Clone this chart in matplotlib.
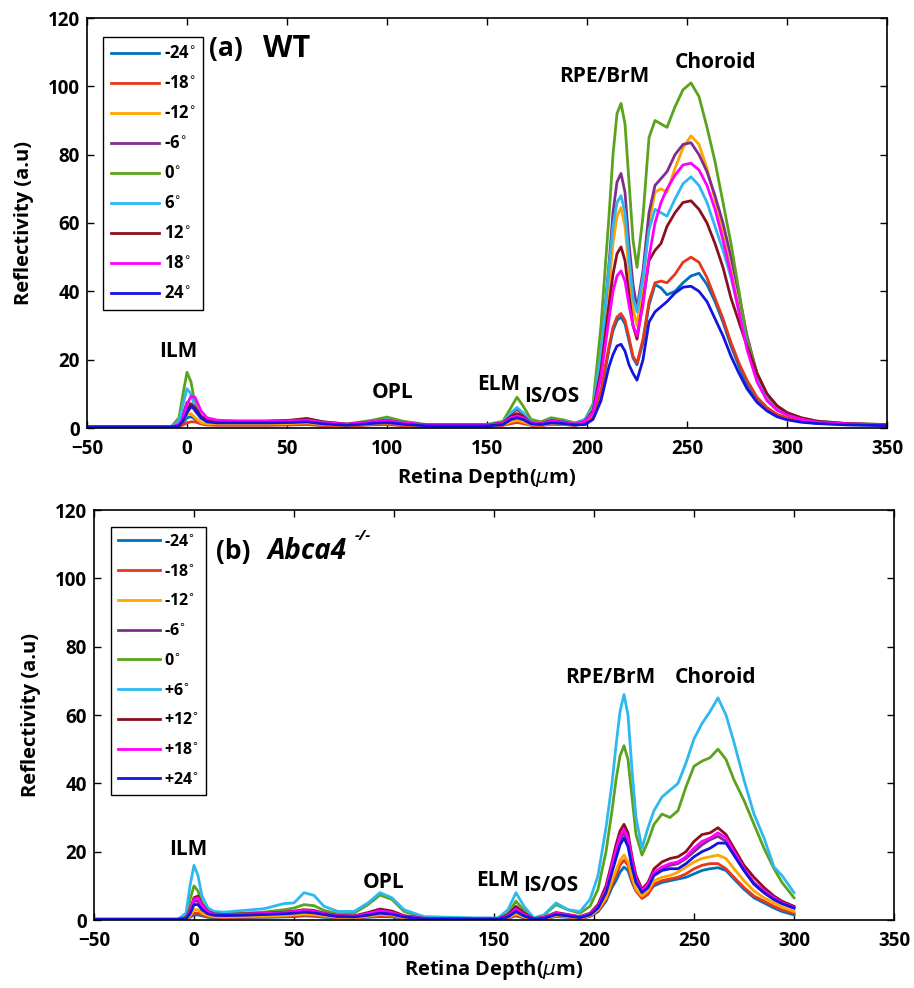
import matplotlib
matplotlib.use("Agg")
import matplotlib.pyplot as plt

plt.rcParams['font.family'] = ['Open Sans', 'DejaVu Sans']
plt.rcParams['mathtext.fontset'] = 'dejavusans'

# ---------------- Panel (a) WT ----------------
xa = [-50, -8, -4, -2, 0,
      2, 4, 7, 10, 15,
      25, 40, 52, 60, 68,
      80, 92, 100, 108, 120,
      150, 158, 162, 165, 168,
      172, 177, 182, 188, 194,
      199, 203, 207, 211, 213,
      215, 217, 219, 221, 223,
      225, 228,
      231, 234, 237, 240, 244,
      248, 252, 256, 260, 264,
      268, 272, 276, 280, 285,
      290, 295, 300, 307, 315,
      330, 350]

a_m24 = [0.3, 0.3, 0.5, 1.5, 3, 3.3, 2.6, 1.5, 1, 0.9, 0.9, 0.9, 1, 1.1, 0.8,
         0.6, 1, 1.2, 0.8, 0.5, 0.5, 0.9, 1.8, 2.2, 1.8, 0.9, 0.8, 1.2, 1.1, 0.8,
         1.3, 3, 10, 23, 28.5, 31.5, 32.5, 30.5, 25.5, 20.5, 18.5, 25,
         36, 42, 41, 39, 40,
         42.5, 44.5, 45.3, 42, 37, 31, 24, 18, 12.5, 8, 5.3, 3.5, 2.6, 1.9, 1.4, 1, 0.8]
a_m18 = [0.3, 0.3, 0.4, 0.9, 1.5, 1.8, 1.8, 1.2, 0.9, 0.8, 0.8, 0.8, 0.9, 1, 0.7,
         0.6, 0.9, 1, 0.7, 0.5, 0.5, 0.8, 1.3, 1.6, 1.3, 0.8, 0.7, 1.1, 1, 0.8,
         1.5, 3.5, 11, 24, 29.5, 32.5, 33.5, 31.5, 26.5, 21, 19, 26,
         37, 42.5, 43, 42.5, 45,
         48.5, 50, 48.5, 44, 38, 32, 25, 19, 14, 9, 6, 4, 3, 2.2, 1.5, 1.1, 0.8]
a_m12 = [0.3, 0.3, 0.6, 2, 4, 4.2, 3, 1.6, 1.2, 1.2, 1.2, 1.2, 1.3, 1.5, 1,
         0.8, 1.2, 1.5, 1, 0.6, 0.6, 1, 1.8, 2.2, 1.8, 1, 0.8, 1.4, 1.2, 0.9,
         1.8, 4.5, 18, 41, 54, 62, 64.5, 59, 46, 35, 30, 42,
         60, 69, 70, 69, 76,
         82, 85.5, 83, 76, 67, 57, 46, 35, 24, 14, 8.5, 5.5, 4, 2.7, 1.8, 1.2, 0.9]
a_m6 = [0.3, 0.3, 1, 4, 7.5, 7, 5, 2.8, 2, 1.8, 1.8, 1.8, 2, 2.2, 1.5,
        1, 1.5, 2, 1.5, 0.8, 0.8, 1.5, 4, 5.5, 4, 1.5, 1.2, 2, 1.6, 1,
        2, 5, 22, 48, 63, 72, 74.5, 69, 54, 42, 35, 46,
        63, 71, 73, 75, 80,
        83, 83.5, 80, 75, 68, 60, 50, 39, 27, 16, 9.5, 6, 4, 2.8, 1.8, 1.2, 0.9]
a_0 = [0.3, 0.3, 3, 10, 16.3, 13.5, 7, 3, 2.3, 2, 2, 2, 2.2, 2.6, 1.8,
       1.2, 2.2, 3.2, 2, 1, 1, 2, 6, 9, 6.5, 2.5, 1.8, 3, 2.4, 1.5,
       2.5, 7, 30, 62, 80, 92, 95, 89, 72, 55, 47, 62,
       85, 90, 89, 88, 94,
       99, 101, 97, 88, 78, 66, 54, 40, 26, 16, 10, 6.5, 4.5, 3, 2, 1.3, 1]
a_6 = [0.3, 0.3, 2, 7, 11.5, 10, 6, 3, 2.2, 1.8, 1.8, 1.8, 1.9, 2.2, 1.4,
       1, 1.8, 2.5, 1.6, 0.9, 0.9, 1.7, 4.5, 6, 4.5, 1.8, 1.4, 2.4, 2, 1.2,
       2.5, 6, 22, 47, 59, 66, 68, 63, 50, 38, 34, 44,
       58, 64, 63, 62, 67,
       71.5, 73.5, 71, 66, 59, 52, 44, 34, 24, 14, 8.5, 5.5, 4, 2.7, 1.8, 1.2, 0.9]
a_12 = [0.3, 0.3, 0.7, 2.5, 5.5, 7, 6, 3.5, 2.3, 2, 2, 2, 2.3, 2.8, 1.8,
        1.1, 1.8, 2.3, 1.5, 0.9, 0.9, 1.5, 3.5, 4.2, 3.5, 1.5, 1.3, 2.2, 1.8, 1.1,
        2, 5, 17, 36, 45, 51, 53, 49, 39, 30, 26, 37,
        49, 52, 54, 59, 63,
        66, 66.5, 64, 60, 54, 47, 38, 31, 24, 16, 10, 6.5, 4.5, 3, 2, 1.3, 1]
a_18 = [0.3, 0.3, 1, 3, 7, 9.3, 9, 5, 3, 2.3, 2, 2, 2.1, 2.3, 1.6,
        1.1, 1.8, 2.2, 1.5, 0.9, 0.9, 1.3, 3, 3.5, 3, 1.5, 1.2, 2, 1.7, 1.1,
        2, 4.5, 15, 32, 40, 44.5, 46, 43, 36, 30, 27, 36,
        50, 60, 66, 70, 74,
        77, 77.5, 75.5, 71, 64, 55, 45, 34, 23, 13.5, 8, 5.2, 3.8, 2.6, 1.7, 1.2, 0.9]
a_24 = [0.3, 0.3, 0.6, 2, 4.5, 6.2, 5.5, 3, 1.8, 1.5, 1.5, 1.5, 1.6, 1.8, 1.2,
        0.8, 1.3, 1.6, 1.1, 0.6, 0.6, 1, 2.5, 3, 2.5, 1.2, 1, 1.5, 1.3, 0.9,
        1, 2.5, 8, 18, 21.5, 24, 24.5, 22.5, 18.5, 16, 14, 20,
        31, 34, 35.5, 37, 39.5,
        41.2, 41.5, 40, 37, 32, 27, 21, 16, 11.5, 7.5, 5, 3.3, 2.4, 1.7, 1.3, 0.9, 0.7]

# ---------------- Panel (b) Abca4-/- ----------------
xb = [-50, -8, -4, -2, 0,
      2, 4, 7, 10, 15,
      25, 35, 45, 50, 55,
      60, 65, 72, 80, 87,
      93, 99, 105, 115, 140,
      152, 157, 161, 165, 170,
      175, 181, 187, 193, 198,
      202, 206, 209, 211, 213,
      215, 217, 219, 221, 224,
      227, 230,
      234, 238, 242, 246, 250,
      254, 258, 262, 266, 270,
      275, 280, 285, 290, 294,
      300]

b_m24 = [0.2, 0.2, 0.3, 0.8, 1.5, 1.5, 1.2, 0.8, 0.6, 0.6, 0.7, 0.8, 0.9, 1, 1.2,
         1.1, 0.8, 0.6, 0.5, 0.8, 1, 0.9, 0.5, 0.2, 0.2, 0.2, 0.5, 1.2, 0.6, 0.2,
         0.3, 1, 0.8, 0.5, 1, 2.4, 5.5, 9.5, 11.5, 14, 15.5, 14.5, 11, 8.5, 7, 8, 10,
         11, 11.5, 12, 12.5, 13.5, 14.5, 15, 15.3, 14.5, 12, 9, 6.5, 5, 3.5, 2.5, 1.5]
b_m18 = [0.2, 0.2, 0.3, 1, 2, 2, 1.5, 1, 0.8, 0.7, 0.8, 0.9, 1, 1.2, 1.4,
         1.3, 1, 0.7, 0.6, 0.9, 1.3, 1.1, 0.6, 0.2, 0.2, 0.2, 0.6, 1.5, 0.8, 0.2,
         0.4, 1.2, 0.9, 0.5, 1.1, 2.7, 6, 10.5, 13, 16, 17.5, 16, 11.5, 8.5, 6.3, 7.5, 10.5,
         11.5, 12, 12.5, 13.5, 15, 16, 16.5, 16.5, 15, 12.5, 9.5, 7, 5.5, 4, 3, 2]
b_m12 = [0.2, 0.2, 0.3, 1.2, 3, 3, 2, 1.3, 1, 0.9, 1, 1.1, 1.3, 1.5, 1.7,
         1.6, 1.2, 0.8, 0.7, 1.1, 1.6, 1.4, 0.7, 0.3, 0.2, 0.2, 0.7, 1.8, 0.9, 0.2,
         0.4, 1.3, 1, 0.6, 1.2, 3, 6.5, 11.5, 14.5, 17.5, 19, 17, 12.5, 9, 7, 8.5, 11.5,
         12.5, 13, 14, 15.5, 17, 18, 18.5, 19, 18, 15, 11.5, 8.5, 6.5, 5, 3.8, 2.5]
b_m6 = [0.2, 0.2, 0.5, 2.2, 5.5, 5.5, 3.5, 2, 1.5, 1.4, 1.5, 1.7, 2, 2.2, 2.5,
        2.3, 1.7, 1.1, 1, 1.6, 2.3, 1.9, 1, 0.4, 0.3, 0.3, 1, 2.8, 1.4, 0.3,
        0.6, 1.8, 1.3, 0.8, 1.7, 3.8, 8.5, 15, 19.5, 23.5, 25.5, 23, 16.5, 11.5, 8.5, 10, 13.5,
        15, 16, 16.5, 18, 20, 22, 23.5, 24.5, 23, 19, 14.5, 10.5, 8, 6, 4.8, 3.5]
b_0 = [0.2, 0.2, 1.2, 6, 10, 8.5, 5, 2.7, 2, 1.8, 2, 2.3, 3, 3.5, 4.5,
       4.2, 2.8, 1.8, 2, 4.5, 7.3, 6, 2.5, 0.8, 0.5, 0.5, 2, 5.5, 2.8, 0.5,
       1.4, 4.5, 3, 2, 4, 9, 20, 32, 41, 48, 51, 47, 36, 25, 19, 23, 28,
       31, 30, 32, 39, 45, 46.5, 47.5, 50, 47, 41, 35, 28, 21, 15, 11, 6.5]
b_6 = [0.2, 0.2, 2, 10, 16, 13, 7, 3.5, 2.5, 2.3, 2.8, 3.3, 4.8, 5, 8,
       7.2, 4, 2.5, 2.5, 5, 8, 6.5, 3, 1, 0.6, 0.6, 3, 8, 4, 0.6,
       1.5, 5, 3, 2.5, 6, 13, 27, 40, 51, 61, 66, 60, 44, 30, 21, 27, 32,
       36, 38, 40, 46, 53, 57.5, 61, 65, 60, 52, 41, 31, 24, 15.5, 13, 8]
b_12 = [0.2, 0.2, 0.6, 3, 6.5, 7, 4.5, 2.5, 1.8, 1.6, 1.8, 2, 2.3, 2.6, 3,
        2.8, 2, 1.3, 1.2, 2.2, 3.2, 2.6, 1.3, 0.5, 0.4, 0.4, 1.5, 4, 2, 0.4,
        0.8, 2.2, 1.6, 1, 2, 4.5, 10, 17, 22, 26, 28, 25.5, 18.5, 13, 9, 11, 15,
        17, 18, 18.5, 20, 23, 25, 25.5, 27, 25, 21, 16, 12.5, 9.5, 7, 5.5, 4]
b_18 = [0.2, 0.2, 0.5, 2.5, 6, 6.5, 4.2, 2.3, 1.7, 1.5, 1.7, 1.9, 2.2, 2.5, 2.8,
        2.6, 1.9, 1.2, 1.1, 1.9, 2.7, 2.2, 1.1, 0.4, 0.3, 0.3, 1.2, 3.2, 1.6, 0.3,
        0.7, 2, 1.5, 0.9, 1.8, 4, 9, 16, 20.5, 24.5, 26.5, 24, 17.5, 12, 8.5, 10.5, 14,
        15.5, 16.5, 17, 18.5, 21, 23, 24, 25.5, 24, 20, 15, 11, 8.5, 6.5, 5, 3.7]
b_24 = [0.2, 0.2, 0.4, 1.8, 4.5, 4.5, 3, 1.8, 1.4, 1.3, 1.4, 1.6, 1.8, 2, 2.3,
        2.1, 1.6, 1, 0.9, 1.4, 2, 1.7, 0.9, 0.3, 0.2, 0.2, 0.9, 2.5, 1.2, 0.2,
        0.5, 1.6, 1.2, 0.7, 1.5, 3.5, 8, 14, 18, 22, 24, 21.5, 15.5, 11, 8, 9.5, 13,
        14.5, 15, 15, 16.5, 18.5, 20, 21, 22.5, 22.5, 19, 14.5, 10.5, 8, 6, 4.8, 3.5]

labels_a = ['-24', '-18', '-12', '-6', '0', '6', '12', '18', '24']
labels_b = ['-24', '-18', '-12', '-6', '0', '+6', '+12', '+18', '+24']
colors = ['#0072BD', '#E8361A', '#FFA500', '#7E2F8E', '#5BA31E',
          '#2DB8F0', '#8B0F1F', '#FF00FF', '#1414E0']

series_a = [a_m24, a_m18, a_m12, a_m6, a_0, a_6, a_12, a_18, a_24]
series_b = [b_m24, b_m18, b_m12, b_m6, b_0, b_6, b_12, b_18, b_24]

fig = plt.figure(figsize=(9.14, 9.88), dpi=100)
ax1 = fig.add_axes([87/914, 1-428/988, 800/914, 410/988])
ax2 = fig.add_axes([94/914, 1-920/988, 800/914, 410/988])

tick_fs = 13.5
lab_fs = 14.5
ann_fs = 15


def style(ax):
    ax.set_xlim(-50, 350)
    ax.set_ylim(0, 120)
    ax.set_xticks(range(-50, 351, 50))
    ax.set_yticks(range(0, 121, 20))
    ax.tick_params(direction='in', length=5, width=1, top=True, right=True,
                   labelsize=tick_fs)
    ax.tick_params(axis='x', pad=8)
    ax.tick_params(axis='y', pad=5)
    for lab in ax.get_xticklabels() + ax.get_yticklabels():
        lab.set_fontweight('bold')
    for sp in ax.spines.values():
        sp.set_linewidth(1.2)
        sp.set_color('black')
    ax.set_xlabel(r'Retina Depth($\mu$m)', fontsize=lab_fs, fontweight='bold', labelpad=5)
    ax.set_ylabel('Reflectivity (a.u)', fontsize=lab_fs, fontweight='bold', labelpad=10)


for ax, xs, series, labels in [(ax1, xa, series_a, labels_a), (ax2, xb, series_b, labels_b)]:
    for ys, c, lab in zip(series, colors, labels):
        ax.plot(xs, ys, color=c, lw=2.0, label=lab + r'$^{\circ}$',
                solid_joinstyle='round')
    style(ax)

leg_kw = dict(loc='upper left', fancybox=False, edgecolor='black', framealpha=1,
              handlelength=2.9, handletextpad=0.3, labelspacing=0.72,
              borderpad=0.45, borderaxespad=0, prop={'weight': 'bold', 'size': 12})
l1 = ax1.legend(bbox_to_anchor=(0.02, 0.954), **leg_kw)
leg_kw['handlelength'] = 2.6
leg_kw['labelspacing'] = 0.86
leg_kw['prop'] = {'weight': 'bold', 'size': 11.5}
l2 = ax2.legend(bbox_to_anchor=(0.021, 0.959), **leg_kw)
for l in (l1, l2):
    l.get_frame().set_linewidth(1.0)

# Panel titles
ax1.text(11, 111, '(a)', fontsize=19, fontweight='bold', va='center', ha='left')
ax1.text(38, 111, 'WT', fontsize=22, fontweight='bold', va='center', ha='left')
ax2.text(11, 108, '(b)', fontsize=19, fontweight='bold', va='center', ha='left')
ax2.text(37, 108, 'Abca4', fontsize=20, fontweight='bold', fontstyle='italic',
         va='center', ha='left')
ax2.text(80.5, 112.5, '-/-', fontsize=11, fontweight='bold', fontstyle='italic',
         va='center', ha='left')

# Annotations panel a
for txt, x, y in [('ILM', -4.5, 22.5), ('OPL', 103, 10.5), ('ELM', 156, 12.8),
                  ('IS/OS', 182.5, 9.2), ('RPE/BrM', 208.5, 103), ('Choroid', 264, 107)]:
    ax1.text(x, y, txt, fontsize=ann_fs, fontweight='bold', ha='center', va='center')

# Annotations panel b
for txt, x, y in [('ILM', -3, 20.5), ('OPL', 95, 11), ('ELM', 152, 11.7),
                  ('IS/OS', 178.5, 10.2), ('RPE/BrM', 208, 71), ('Choroid', 261, 71)]:
    ax2.text(x, y, txt, fontsize=ann_fs, fontweight='bold', ha='center', va='center')

fig.savefig('out.png', dpi=100, facecolor='white')
